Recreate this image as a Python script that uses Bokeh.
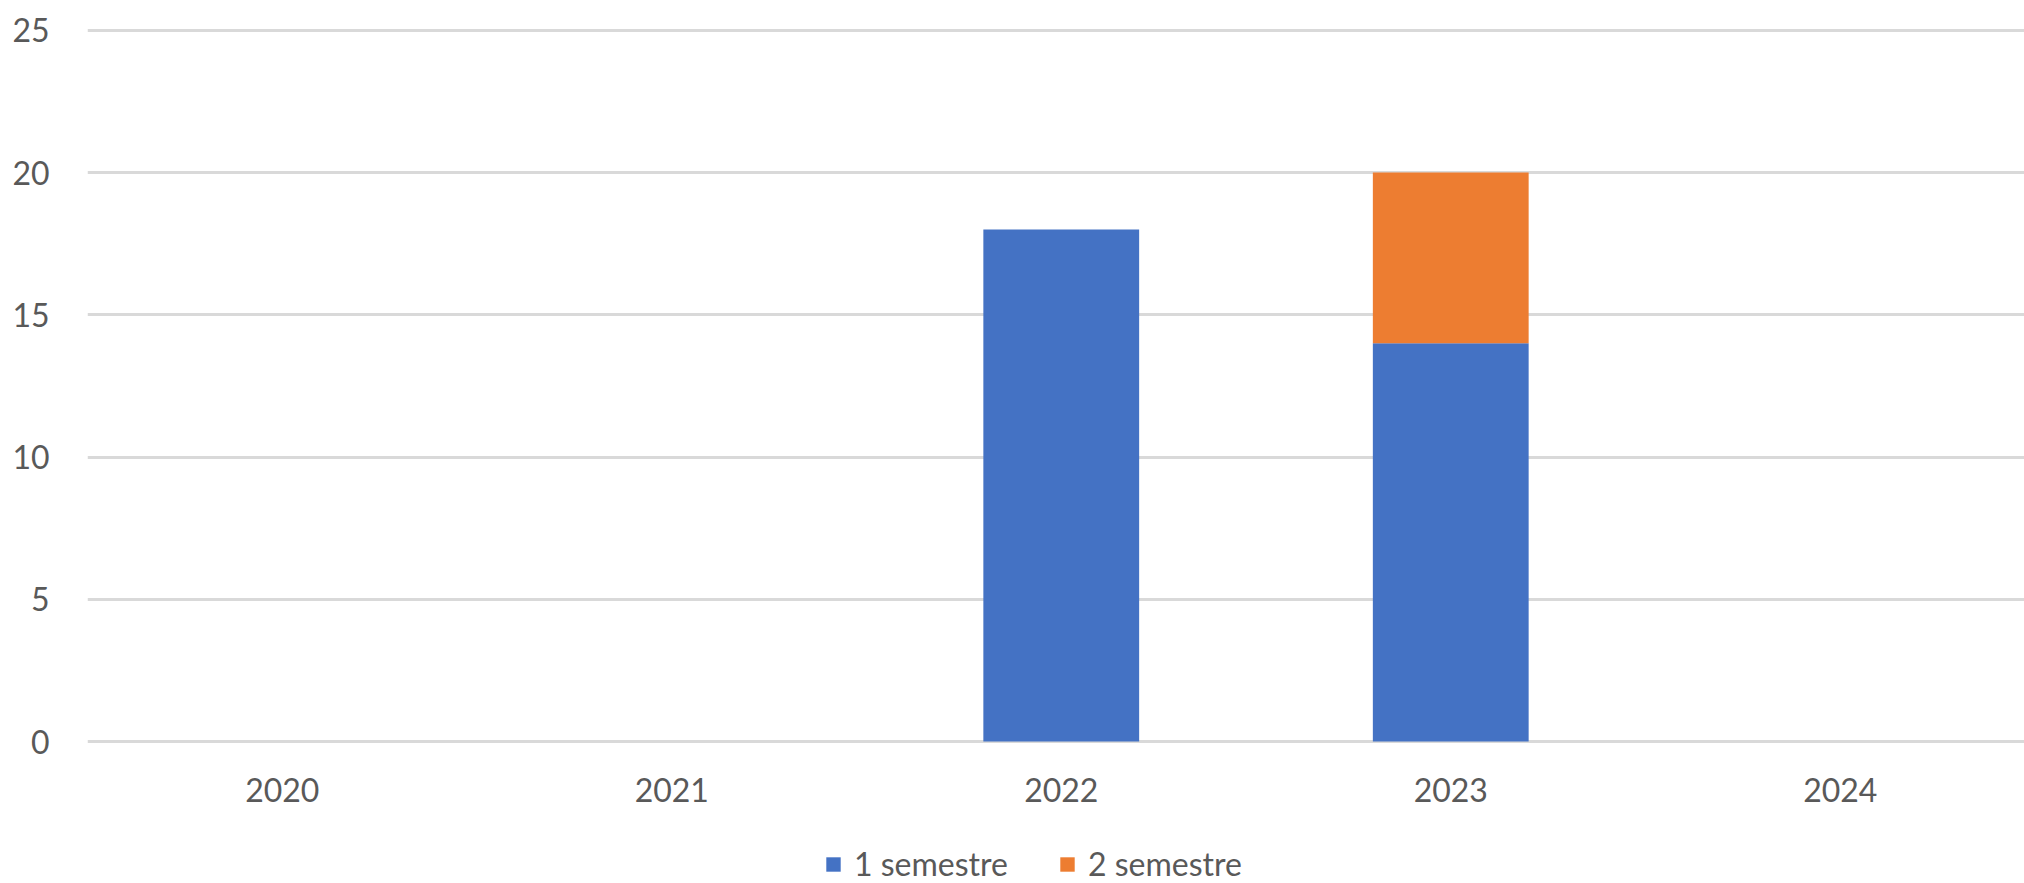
from bokeh.plotting import figure
from bokeh.models import Range1d, Legend, LegendItem, FixedTicker, ColumnDataSource
from bokeh.embed import file_html
from bokeh.resources import INLINE

years = ["2020", "2021", "2022", "2023", "2024"]
sem1 = [0, 0, 18, 14, 0]
sem2 = [0, 0, 0, 6, 0]
series_names = ["1 semestre", "2 semestre"]
colors = ["#4472C4", "#ED7D31"]
y_ticks = [0, 5, 10, 15, 20, 25]

FONT = "Lato"
TXT = "#595959"
PX_PER_UNIT = (741 - 172) / 20.0

xs = list(range(len(years)))
src = ColumnDataSource(dict(x=xs, s1=sem1, s2=sem2))

p = figure(width=2024, height=883, output_backend="svg", toolbar_location=None,
           x_range=Range1d(-0.5, -0.5 + (2024 - 87) / 389.5),
           y_range=Range1d(-(883 - 741) / PX_PER_UNIT, (741 - 21) / PX_PER_UNIT),
           min_border_left=87, min_border_right=0, min_border_top=21,
           min_border_bottom=0)
p.outline_line_color = None
p.background_fill_color = "white"
p.border_fill_color = "white"

r = p.vbar_stack(["s1", "s2"], x="x", width=0.4, source=src, color=colors,
                 line_color=None)

p.xgrid.grid_line_color = None
p.ygrid.grid_line_color = "#D9D9D9"
p.ygrid.grid_line_width = 3
p.yaxis.ticker = FixedTicker(ticks=y_ticks)
p.xaxis.ticker = FixedTicker(ticks=xs)
p.xaxis.major_label_overrides = {i: y for i, y in enumerate(years)}
p.xaxis.fixed_location = 0

for ax in (p.xaxis[0], p.yaxis[0]):
    ax.axis_line_color = None
    ax.major_tick_line_color = None
    ax.minor_tick_line_color = None
    ax.major_label_text_font = FONT
    ax.major_label_text_color = TXT
    ax.major_label_text_font_size = "32px"
p.yaxis.major_label_standoff = 32
p.xaxis.major_label_standoff = 30

legend = Legend(items=[LegendItem(label=series_names[i], renderers=[r[i]]) for i in range(2)],
                orientation="horizontal", location=(737, 0),
                label_text_font=FONT, label_text_color=TXT, label_text_font_size="32px",
                glyph_width=18, glyph_height=18, label_standoff=12, spacing=50,
                label_height=30,
                border_line_color=None, background_fill_alpha=0, margin=0, padding=2)
p.add_layout(legend, "center")

open("out.html", "w").write(file_html(p, INLINE))
